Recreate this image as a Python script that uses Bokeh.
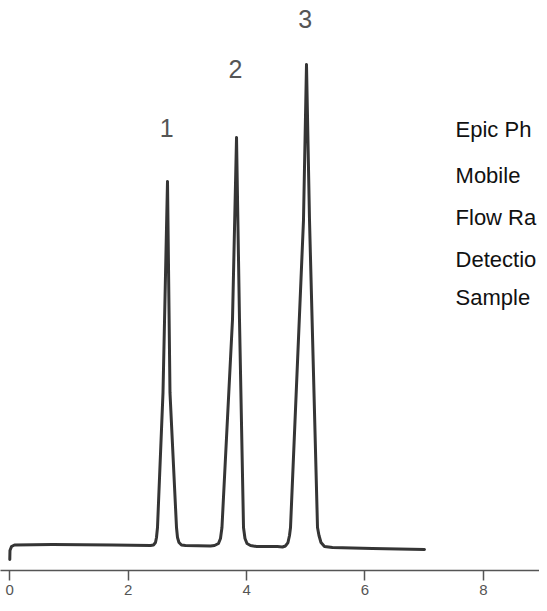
from bokeh.plotting import figure
from bokeh.models import Range1d, LinearAxis, FixedTicker, ColumnDataSource
from bokeh.core.properties import value
from bokeh.embed import file_html
from bokeh.resources import INLINE

# Chromatogram trace: time (min) and detector signal (arbitrary units)
time_min = [0.000, 0.003, 0.029, 0.079, 0.720, 1.735,
            2.377, 2.427, 2.461, 2.478, 2.495, 2.588, 2.664, 2.706, 2.816, 2.833, 2.858, 2.900, 2.968,
            3.390, 3.458, 3.525, 3.559, 3.584, 3.762, 3.830, 3.880, 3.948, 3.973, 4.007, 4.066, 4.167,
            4.520,
            4.606, 4.657, 4.699, 4.725, 4.742, 4.961, 5.012, 5.063, 5.198, 5.223, 5.257, 5.316, 5.451,
            6.127, 7.005]
signal = [1.93, 3.50, 4.21, 4.47, 4.56, 4.47,
          4.39, 4.47, 4.91, 5.79, 7.54, 31.2, 68.25, 31.2, 7.54, 5.79, 4.91, 4.47, 4.39,
          4.30, 4.39, 4.74, 5.61, 7.54, 44.04, 75.96, 44.04, 7.54, 5.61, 4.74, 4.39, 4.21,
          4.21,
          4.12, 4.30, 4.91, 6.14, 7.54, 61.40, 88.77, 61.40, 7.54, 6.14, 4.91, 4.21, 4.04,
          3.86, 3.68]

# Peak numbers
peak_labels = ["1", "2", "3"]
peak_label_t = [2.65, 3.81, 4.99]
peak_label_s = [77.7, 87.9, 96.7]

# Method text (the part visible in the reference)
method_lines = ["Epic Ph", "Mobile", "Flow Ra", "Detectio", "Sample"]
method_t = [7.53, 7.53, 7.53, 7.53, 7.53]
method_s = [77.4, 69.3, 61.9, 54.6, 47.9]

# Axis ticks
tick_values = [0, 2, 4, 6, 8]

p = figure(width=539, height=603, output_backend="svg", toolbar_location=None,
           x_range=Range1d(-0.157, 8.948), y_range=Range1d(0, 100),
           x_axis_type=None, y_axis_type=None,
           min_border_left=0, min_border_right=0, min_border_top=0, min_border_bottom=33)
p.outline_line_color = None
p.grid.visible = False
p.background_fill_color = "white"
p.border_fill_color = "white"

ax = LinearAxis(ticker=FixedTicker(ticks=tick_values))
ax.axis_line_color = "#555555"
ax.axis_line_width = 1.5
ax.major_tick_line_color = "#555555"
ax.major_tick_line_width = 1.5
ax.major_tick_in = 0
ax.major_tick_out = 10
ax.minor_tick_line_color = None
ax.major_label_text_font = "Liberation Sans"
ax.major_label_text_font_size = "15px"
ax.major_label_text_color = "#555555"
ax.major_label_standoff = 4
p.add_layout(ax, "below")

src = ColumnDataSource(dict(t=time_min, s=signal))
p.line("t", "s", source=src, line_color="#353535", line_width=3, line_join="round", line_cap="round")

p.text(x=peak_label_t, y=peak_label_s, text=peak_labels,
       text_font=value("Liberation Sans"), text_font_size="25px",
       text_color="#555555", text_align="center", text_baseline="middle")

p.text(x=method_t, y=method_s, text=method_lines,
       text_font=value("Liberation Sans"), text_font_size="22px",
       text_color="#111111", text_align="left", text_baseline="alphabetic")

open("out.html", "w").write(file_html(p, INLINE))
